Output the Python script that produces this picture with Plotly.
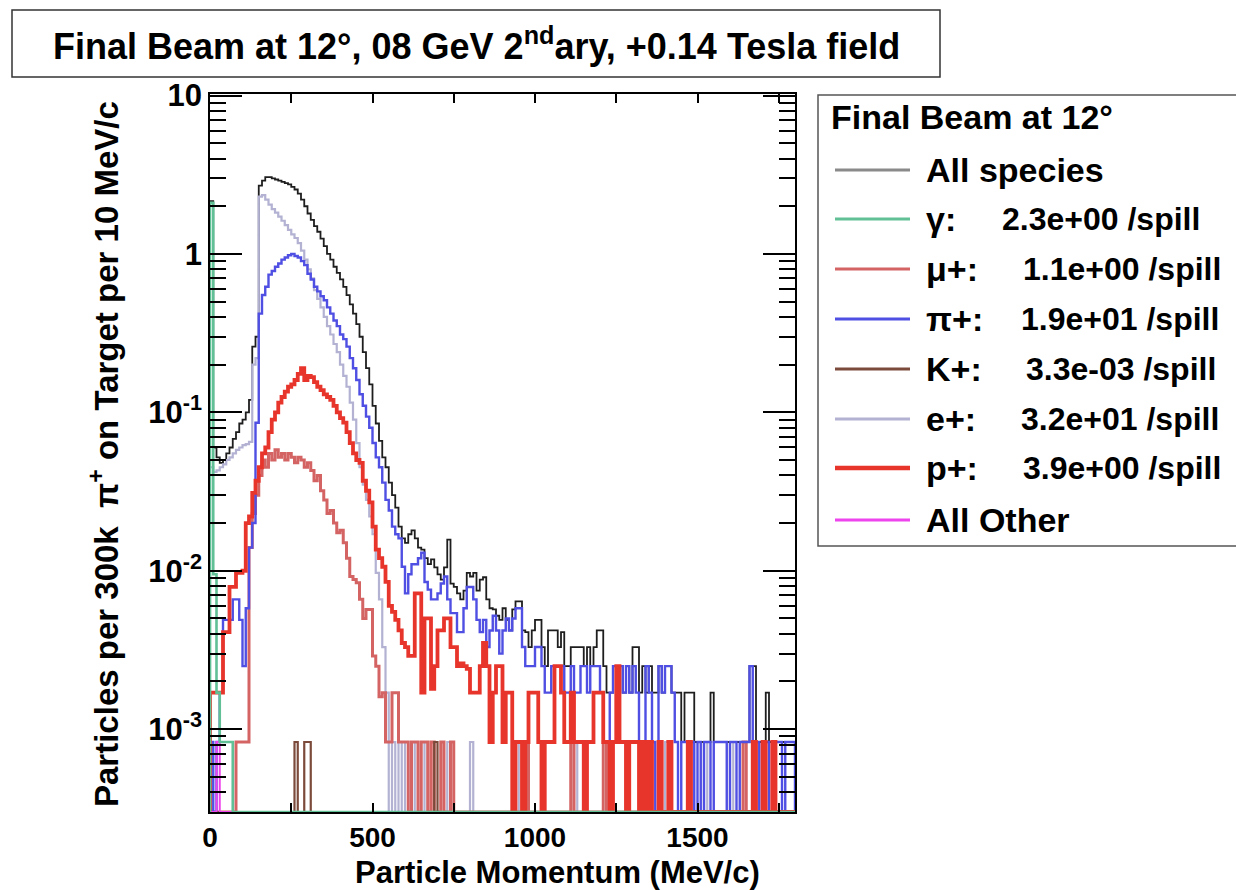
import numpy as np
import plotly.graph_objects as go

# ---------------- data (10 MeV/c bins, 0-1800 MeV/c) ----------------
BIN_EDGES = list(range(0, 1810, 10))

all_species = [
    2.15, 0.06, 0.052, 0.048, 0.05, 0.055, 0.06, 0.068, 0.075, 0.085,
    0.09, 0.1, 0.12, 0.26, 0.3, 2.7, 2.9, 3.05, 3.05, 3.0,
    2.95, 2.9, 2.85, 2.8, 2.75, 2.65, 2.55, 2.4, 2.2, 2.0,
    1.8, 1.64, 1.5, 1.38, 1.25, 1.12, 1.0, 0.92, 0.83, 0.76,
    0.69, 0.62, 0.55, 0.48, 0.42, 0.36, 0.3, 0.24, 0.19, 0.15,
    0.11, 0.085, 0.066, 0.052, 0.045, 0.036, 0.03, 0.025, 0.019, 0.016,
    0.015, 0.017, 0.018, 0.016, 0.014, 0.0136, 0.012, 0.011, 0.0118, 0.0105,
    0.0095, 0.0088, 0.0105, 0.0157, 0.0083, 0.0079, 0.0072, 0.0066, 0.0075, 0.0097,
    0.0092, 0.0097, 0.0075, 0.0088, 0.0091, 0.0066, 0.0058, 0.0057, 0.0052, 0.0049,
    0.0058, 0.0049, 0.0042, 0.0057, 0.0064, 0.0064, 0.0042, 0.0041, 0.0033, 0.0042,
    0.0049, 0.0049, 0.0033, 0.0025, 0.0042, 0.0042, 0.0042, 0.0033, 0.0041, 0.0025,
    0.0025, 0.0033, 0.0033, 0.0033, 0.0033, 0.0025, 0.0033, 0.0025, 0.0033, 0.0042,
    0.0042, 0.0025, 0.0017, 0.0017, 0.0025, 0.0025, 0.0025, 0.0017, 0.0025, 0.0017,
    0.0033, 0.0033, 0.0017, 0.0025, 0.0017, 0.0025, 0.0017, 0.0017, 0.0025, 0.0017,
    0.0025, 0.0025, 0.0017, 0.0017, 0.0017, 0.00083, 0.0017, 0.0017, 0.0017, 0.00083,
    0.00083, 0.00083, 0.00083, 0.00083, 0.0017, 0.00083, 0.00083, 0.00083, 0.00083, 0.00083,
    0.00083, 0.00083, 0.00083, 0.00083, 0.00083, 0.00083, 0.0025, 0.0025, 0.00083, 0.00083,
    0.00083, 0.0017, 0.00083, 0.00083, 0.00083, 0.00083, 0.00083, 0.00083, 0.00083, 0.00083,
]

gamma = [2.1, 0.0095, 0.0017, 0.00083, 0.00083, 0.00083, 0.00083] + [0] * 173

muon = [
    0, 0, 0, 0, 0, 0, 0, 0, 0.00083, 0.00083,
    0.00083, 0.00083, 0.014, 0.023, 0.03, 0.04, 0.05, 0.045, 0.055, 0.05,
    0.058, 0.052, 0.055, 0.05, 0.055, 0.052, 0.048, 0.052, 0.05, 0.045,
    0.048, 0.043, 0.037, 0.04, 0.032, 0.028, 0.023, 0.024, 0.02, 0.0174,
    0.018, 0.015, 0.012, 0.0092, 0.0088, 0.0084, 0.0066, 0.005, 0.0057, 0.0057,
    0.0029, 0.0025, 0.0016, 0.0017, 0.00083, 0.00083, 0.0017, 0.0017, 0.00083, 0.00083,
    0.00083, 0, 0.00083, 0.00083, 0, 0.00083, 0.00083, 0, 0.00083, 0,
    0, 0.00083, 0, 0, 0.00083, 0, 0, 0, 0, 0,
    0, 0, 0, 0, 0, 0, 0, 0, 0, 0,
    0, 0, 0, 0, 0, 0, 0, 0.00083, 0, 0,
    0, 0, 0, 0, 0, 0, 0, 0, 0, 0,
    0, 0.00083, 0, 0, 0, 0, 0, 0, 0, 0,
    0, 0.00083, 0, 0, 0, 0, 0, 0, 0.00083, 0,
    0, 0, 0, 0, 0, 0, 0, 0, 0, 0,
    0, 0, 0, 0, 0, 0, 0, 0, 0, 0,
    0, 0, 0, 0, 0, 0, 0, 0, 0, 0,
    0, 0, 0, 0, 0.00083, 0, 0, 0, 0, 0,
    0, 0, 0, 0, 0, 0, 0, 0, 0, 0,
]

pion = [
    0.00083, 0, 0.00083, 0.0017, 0.0049, 0.0049, 0.0049, 0.0066, 0.0066, 0.0049,
    0.0025, 0.0058, 0.014, 0.02, 0.086, 0.42, 0.55, 0.62, 0.74, 0.78,
    0.83, 0.87, 0.92, 0.95, 0.98, 1.0, 0.97, 0.95, 0.9, 0.85,
    0.75, 0.69, 0.62, 0.58, 0.54, 0.51, 0.46, 0.42, 0.38, 0.35,
    0.31, 0.29, 0.26, 0.22, 0.19, 0.16, 0.13, 0.11, 0.094, 0.08,
    0.064, 0.052, 0.045, 0.036, 0.028, 0.024, 0.019, 0.017, 0.016, 0.0106,
    0.0072, 0.0095, 0.011, 0.011, 0.012, 0.013, 0.0085, 0.0076, 0.0066, 0.0066,
    0.0072, 0.0083, 0.0092, 0.0066, 0.0054, 0.0054, 0.0041, 0.0041, 0.0058, 0.0079,
    0.0079, 0.0066, 0.0049, 0.0041, 0.0049, 0.0033, 0.0042, 0.0052, 0.0042, 0.003,
    0.0042, 0.005, 0.0042, 0.005, 0.0058, 0.0058, 0.0033, 0.0025, 0.0025, 0.0025,
    0.0033, 0.0033, 0.0025, 0.0017, 0.0017, 0.0025, 0.0025, 0.0025, 0.0025, 0.0017,
    0.0017, 0.0025, 0.0017, 0.0017, 0.0025, 0.0025, 0.0017, 0.0025, 0.0025, 0.0025,
    0.0017, 0.00083, 0.00083, 0.0017, 0.0025, 0.0025, 0.0025, 0.0017, 0.0025, 0.0017,
    0.0025, 0.0017, 0.00083, 0.00083, 0.0025, 0.0017, 0.00083, 0, 0.0025, 0.0017,
    0.0025, 0.0025, 0.0017, 0.00083, 0, 0.00083, 0.00083, 0, 0.00083, 0,
    0.00083, 0, 0.00083, 0.00083, 0, 0.00083, 0.00083, 0.00083, 0.00083, 0,
    0.00083, 0.00083, 0, 0.00083, 0.00083, 0.00083, 0.0025, 0, 0.00083, 0,
    0, 0.00083, 0, 0, 0.00083, 0.00083, 0, 0.00083, 0.00083, 0.00083,
]

kaon = [0] * 180
for _b in (26, 29, 30, 69):
    kaon[_b] = 0.00083

positron = [
    0.045, 0.042, 0.043, 0.045, 0.047, 0.05, 0.052, 0.055, 0.058, 0.06,
    0.062, 0.063, 0.065, 0.2, 0.22, 2.3, 2.35, 2.2, 2.05, 1.92,
    1.82, 1.72, 1.62, 1.52, 1.42, 1.33, 1.26, 1.17, 1.05, 0.92,
    0.8, 0.7, 0.59, 0.52, 0.46, 0.4, 0.35, 0.31, 0.27, 0.24,
    0.2, 0.17, 0.145, 0.115, 0.09, 0.064, 0.045, 0.035, 0.028, 0.022,
    0.017, 0.0097, 0.0066, 0.0033, 0.0017, 0, 0.00083, 0, 0.00083, 0,
    0.00083, 0, 0, 0.00083, 0, 0, 0.00083, 0, 0, 0,
    0, 0, 0, 0.00083, 0, 0, 0, 0, 0, 0,
    0.00083, 0, 0, 0, 0, 0, 0, 0, 0, 0,
    0, 0, 0, 0, 0, 0.00083, 0, 0, 0, 0,
    0, 0, 0, 0, 0, 0, 0, 0, 0, 0,
    0, 0, 0.00083, 0, 0, 0, 0, 0, 0, 0,
    0, 0, 0, 0.00083, 0, 0, 0, 0, 0, 0,
    0, 0, 0, 0, 0, 0, 0, 0, 0, 0,
    0.00083, 0, 0, 0, 0, 0, 0, 0, 0, 0,
    0, 0, 0.00083, 0, 0, 0, 0, 0, 0, 0,
    0.00083, 0, 0, 0, 0, 0, 0, 0, 0, 0,
    0, 0, 0, 0, 0, 0, 0, 0, 0, 0,
]

proton = [
    0.0017, 0.0017, 0.0017, 0.0017, 0.0041, 0.0041, 0.0079, 0.0079, 0.0097, 0.0097,
    0.01, 0.02, 0.022, 0.031, 0.037, 0.045, 0.055, 0.06, 0.075, 0.09,
    0.1, 0.115, 0.125, 0.135, 0.145, 0.15, 0.16, 0.175, 0.19, 0.16,
    0.17, 0.167, 0.155, 0.145, 0.138, 0.13, 0.125, 0.12, 0.11, 0.1,
    0.092, 0.086, 0.075, 0.064, 0.055, 0.05, 0.048, 0.037, 0.032, 0.027,
    0.019, 0.0136, 0.012, 0.0106, 0.0085, 0.006, 0.0055, 0.0049, 0.0042, 0.0035,
    0.0033, 0.0029, 0.0029, 0.0072, 0.0072, 0.0017, 0.005, 0.005, 0.0018, 0.0025,
    0.0042, 0.0042, 0.005, 0.005, 0.0033, 0.0033, 0.0025, 0.0026, 0.0025, 0.0024,
    0.0017, 0.0017, 0.0017, 0.0025, 0.0035, 0.0025, 0.00083, 0.0017, 0.0025, 0.0025,
    0.00083, 0.0017, 0.0017, 0, 0.00083, 0.00083, 0, 0.00083, 0.0017, 0.0017,
    0.0017, 0.00083, 0, 0.00083, 0.00083, 0.00083, 0.0025, 0.0025, 0.0017, 0.00083,
    0.00083, 0.0017, 0.00083, 0.00083, 0.00083, 0, 0.00083, 0.00083, 0.0017, 0.0017,
    0.0017, 0.00083, 0.00083, 0, 0.00083, 0.0025, 0.00083, 0.00083, 0, 0.00083,
    0.00083, 0.00083, 0, 0.00083, 0, 0.00083, 0, 0, 0.00083, 0,
    0, 0.00083, 0, 0, 0, 0, 0, 0.00083, 0, 0,
    0, 0, 0, 0, 0, 0, 0, 0, 0, 0,
    0, 0, 0, 0, 0, 0, 0, 0.00083, 0, 0,
    0.00083, 0, 0, 0.00083, 0, 0, 0, 0, 0, 0,
]

all_other = [0, 0, 0.00083] + [0] * 177

legend_title = "Final Beam at 12°"
legend_labels = ["All species", "γ:", "μ+:", "π+:", "K+:", "e+:", "p+:", "All Other"]
legend_rates = ["", "2.3e+00 /spill", "1.1e+00 /spill", "1.9e+01 /spill",
                "3.3e-03 /spill", "3.2e+01 /spill", "3.9e+00 /spill", ""]

x_tick_vals = [0, 500, 1000, 1500]
x_tick_text = ["0", "500", "1000", "1500"]
y_tick_vals = [1e-3, 1e-2, 1e-1, 1, 10]
y_tick_text = ["10<sup>-3</sup>", "10<sup>-2</sup>", "10<sup>-1</sup>", "1", "10"]

# ---------------- styling ----------------
FONT = "Liberation Sans"
Y_MIN_LOG = np.log10(3e-4)
Y_MAX_LOG = 1.0095
FLOOR = 10 ** Y_MIN_LOG

L, R, T, B = 210, 795, 94, 812
W, H = R - L, B - T


def px(x):
    return (x - L) / W


def py(y):
    return (B - y) / H


def steps(vals):
    v = [val if val > 0 else FLOOR for val in vals]
    xs = [BIN_EDGES[0]] + BIN_EDGES[:-1] + [BIN_EDGES[-1], BIN_EDGES[-1]]
    ys = [FLOOR] + v + [v[-1], FLOOR]
    return xs, ys


series = [
    ("All species", all_species, "#1e1e1e", 1.8),
    ("e+", positron, "#b3b2d3", 2.2),
    ("mu+", muon, "#d46464", 3.0),
    ("pi+", pion, "#4f4fe3", 2.4),
    ("K+", kaon, "#7c4a3b", 2.2),
    ("p+", proton, "#e8352c", 3.8),
    ("All Other", all_other, "#ee44ee", 2.0),
    ("gamma", gamma, "#62c096", 2.6),
]

fig = go.Figure()
for name, vals, color, width in series:
    xs, ys = steps(vals)
    fig.add_trace(go.Scatter(x=xs, y=ys, mode="lines", name=name,
                             line=dict(color=color, width=width, shape="hv"),
                             showlegend=False, hoverinfo="skip"))

bold = dict(family=FONT, color="black", weight="bold")

fig.update_layout(
    width=1236, height=890,
    margin=dict(l=L, r=1236 - R, t=T, b=890 - B),
    paper_bgcolor="white", plot_bgcolor="white",
    showlegend=False,
    xaxis=dict(range=[0, 1800], tickmode="array", tickvals=x_tick_vals, ticktext=x_tick_text,
               ticks="inside", ticklen=9, tickwidth=1.5, tickcolor="black",
               showline=True, linecolor="black", linewidth=1.5, mirror="ticks",
               showgrid=False, zeroline=False, tickfont=dict(size=28, **bold),
               ticklabelstandoff=0,
               minor=dict(ticks="inside", ticklen=9, tickwidth=1.5, tickcolor="black",
                          dtick=250, tick0=0, showgrid=False)),
    yaxis=dict(type="log", range=[Y_MIN_LOG, Y_MAX_LOG], tickmode="array",
               tickvals=y_tick_vals, ticktext=y_tick_text,
               ticks="inside", ticklen=32, tickwidth=1.5, tickcolor="black",
               showline=True, linecolor="black", linewidth=1.5, mirror="ticks",
               showgrid=False, zeroline=False, tickfont=dict(size=31, **bold),
               minor=dict(ticks="inside", ticklen=16, tickwidth=1.5, tickcolor="black",
                          dtick="D1", showgrid=False)),
)

shapes = []
annotations = []

# title box
shapes.append(dict(type="rect", xref="paper", yref="paper",
                   x0=px(12), x1=px(940), y0=py(77), y1=py(10),
                   line=dict(color="#333", width=1.5), fillcolor="white", layer="above"))
annotations.append(dict(xref="paper", yref="paper", x=px(476), y=py(44),
                        xanchor="center", yanchor="middle", showarrow=False,
                        text="Final Beam at 12°, 08 GeV 2<sup>nd</sup>ary, +0.14 Tesla field",
                        font=dict(size=36, **bold)))

# axis titles
annotations.append(dict(xref="paper", yref="paper", x=px(557), y=py(872),
                        xanchor="center", yanchor="middle", showarrow=False,
                        text="Particle Momentum (MeV/c)", font=dict(size=31, **bold)))
annotations.append(dict(xref="paper", yref="paper", x=px(104), y=py(454),
                        xanchor="center", yanchor="middle", showarrow=False, textangle=-90,
                        text="Particles per 300k  π<sup>+</sup> on Target per 10 MeV/c",
                        font=dict(size=33, **bold)))

# legend box
shapes.append(dict(type="rect", xref="paper", yref="paper",
                   x0=px(818), x1=px(1260), y0=py(546), y1=py(95),
                   line=dict(color="#555", width=1.5), fillcolor="white", layer="below"))
annotations.append(dict(xref="paper", yref="paper", x=px(829), y=py(117),
                        xanchor="left", yanchor="middle", showarrow=False,
                        text=legend_title, font=dict(size=34, **bold)))
legend_colors = ["#8a8a8a", "#62c096", "#d46464", "#4f4fe3", "#7c4a3b", "#b3b2d3", "#e8352c", "#ee44ee"]
legend_widths = [3, 3, 3, 3, 3, 3, 4.5, 3]
legend_y = [170, 219, 269, 319, 369, 419, 468, 520]
rate_x = [0, 1000, 1021, 1019, 1024, 1019, 1021, 0]
for lab, rate, col, lw, yy, rx in zip(legend_labels, legend_rates, legend_colors,
                                      legend_widths, legend_y, rate_x):
    shapes.append(dict(type="line", xref="paper", yref="paper",
                       x0=px(835), x1=px(910), y0=py(yy), y1=py(yy),
                       line=dict(color=col, width=lw)))
    annotations.append(dict(xref="paper", yref="paper", x=px(924), y=py(yy),
                            xanchor="left", yanchor="middle", showarrow=False,
                            text=lab, font=dict(size=34, **bold)))
    if rate:
        annotations.append(dict(xref="paper", yref="paper", x=px(rx), y=py(yy),
                                xanchor="left", yanchor="middle", showarrow=False,
                                text=rate, font=dict(size=32, **bold)))

fig.update_layout(shapes=shapes, annotations=annotations)
fig.write_html("out.html")
